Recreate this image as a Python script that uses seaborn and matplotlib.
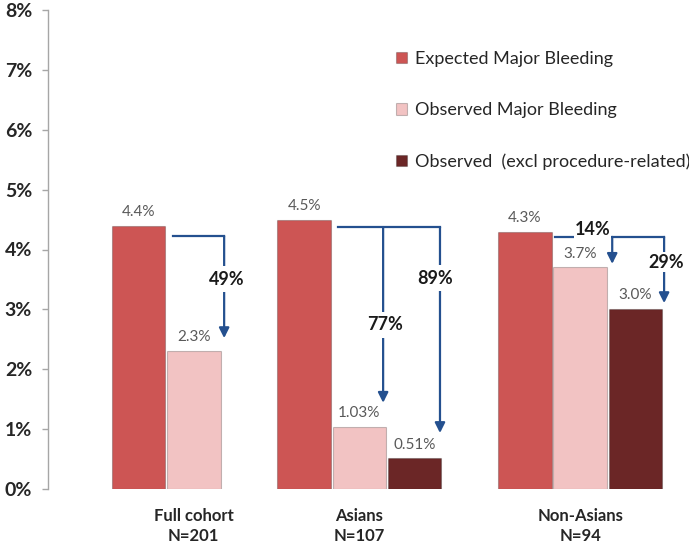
import numpy as np
import pandas as pd
import matplotlib
matplotlib.use('Agg')
import matplotlib.pyplot as plt
import seaborn as sns

# Data (values in %)
groups = ['Full cohort', 'Asians', 'Non-Asians']
group_n = [201, 107, 94]
series = ['Expected Major Bleeding', 'Observed Major Bleeding',
          'Observed  (excl procedure-related)']
expected = [4.4, 4.5, 4.3]
observed = [2.3, 1.03, 3.7]
observed_excl = [np.nan, 0.51, 3.0]
reduction_obs = ['49%', '77%', '14%']
reduction_excl = [None, '89%', '29%']

# Layout: group centres on a native numeric axis (bar width = 1 unit)
group_pos = [0, 3, 7]
palette = dict(zip(series, ['#CD5554', '#F2C3C3', '#6B2626']))
arrow_color = '#24508F'

rows = []
for g, pos, vals in zip(groups, group_pos, zip(expected, observed, observed_excl)):
    for s, v in zip(series, vals):
        if not np.isnan(v):
            rows.append({'group': g, 'pos': pos, 'series': s, 'value': v})
df = pd.DataFrame(rows)

sns.set_style('white')
plt.rcParams['font.family'] = ['Lato', 'DejaVu Sans']

fig = plt.figure(figsize=(6.89, 5.44), dpi=100)
ax = fig.add_axes([48 / 689, 55 / 544, 641 / 689, 479 / 544])

sns.barplot(data=df, x='pos', y='value', hue='series', hue_order=series,
            palette=palette, native_scale=True, width=1.0, gap=0.03,
            errorbar=None, edgecolor=(0, 0, 0, 0.22), linewidth=0.8,
            saturation=1, ax=ax)

ax.set_xlim(-2.641, 8.971)
ax.set_ylim(0, 8)

# value labels above the bars
def fmt(v):
    return f'{v:.2f}%' if v < 2 else f'{v:.1f}%'

for cont in ax.containers:
    ax.bar_label(cont, labels=[fmt(v) for v in cont.datavalues], padding=5,
                 fontsize=11, color='#595959')

# axes styling
ax.set_yticks(range(0, 9))
ax.set_yticklabels([f'{t}%' for t in range(0, 9)], fontsize=14, fontweight='bold')
ax.tick_params(axis='y', length=4.5, width=1, color='#A6A6A6', pad=7, left=True)
ax.set_xticks(group_pos)
ax.set_xticklabels([f'{g}\nN={n}' for g, n in zip(groups, group_n)],
                   fontsize=12, fontweight='bold', linespacing=1.25)
ax.tick_params(axis='x', length=0, pad=14)
ax.set_xlabel('')
ax.set_ylabel('')
sns.despine(ax=ax, bottom=True)
ax.spines['left'].set_color('#A6A6A6')
ax.spines['left'].set_linewidth(1)

# legend
leg = ax.get_legend()
handles = leg.legend_handles
labels = [t.get_text() for t in leg.get_texts()]
leg.remove()
ax.legend(handles, labels, loc='upper left', bbox_to_anchor=(396 / 689, 1 - 51 / 544),
          bbox_transform=fig.transFigure, frameon=False, fontsize=13,
          labelspacing=1.95, handlelength=0.6, handleheight=0.6,
          handletextpad=0.45, borderpad=0, borderaxespad=0)


# reduction arrows
def hline(x0, x1, y):
    ax.plot([x0, x1], [y, y], color=arrow_color, lw=1.6, zorder=3,
            solid_capstyle='projecting')


def drop(x, y0, y1):
    ax.annotate('', xy=(x, y1), xytext=(x, y0), zorder=3,
                arrowprops=dict(arrowstyle='-|>,head_length=0.6,head_width=0.3',
                                color=arrow_color, lw=1.6, mutation_scale=10,
                                shrinkA=0, shrinkB=0))


def tag(x, y, s, pad):
    ax.text(x, y, s, ha='center', va='center', fontsize=13, fontweight='bold',
            color='#1a1a1a', zorder=4,
            bbox=dict(boxstyle=f'square,pad={pad}', fc='white', ec='none'))


# Full cohort
g = group_pos[0]
y = expected[0] - 0.175
hline(g - 0.38, g + 0.55, y)
drop(g + 0.55, y, observed[0] + 0.22)
tag(g + 0.6, 3.5, reduction_obs[0], 0.25)

# Asians
g = group_pos[1]
y = expected[1] - 0.125
hline(g - 0.39, g + 1.46, y)
drop(g + 0.43, y, observed[1] + 0.41)
tag(g + 0.46, 2.74, reduction_obs[1], 0.25)
drop(g + 1.46, y, observed_excl[1] + 0.425)
tag(g + 1.37, 3.52, reduction_excl[1], 0.25)

# Non-Asians
g = group_pos[2]
y = expected[2] - 0.09
hline(g - 0.46, g + 1.52, y)
drop(g + 0.58, y, observed[2] + 0.06)
tag(g + 0.23, 4.33, reduction_obs[2], 0.04)
drop(g + 1.52, y, observed_excl[2] + 0.105)
tag(g + 1.55, 3.79, reduction_excl[2], 0.1)

fig.savefig('out.png', dpi=100)
plt.close(fig)
